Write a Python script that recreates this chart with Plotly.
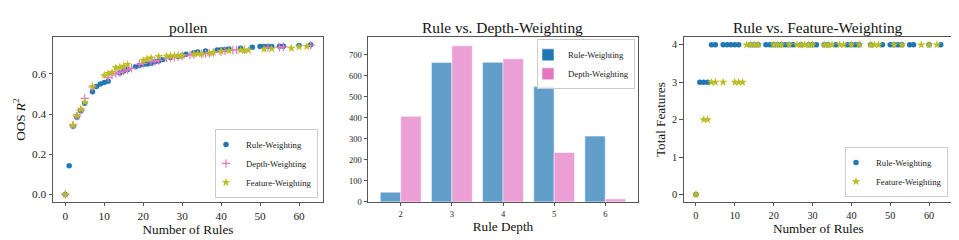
import plotly.graph_objects as go

# ---------------- data ----------------
# Panel 1: pollen, OOS R^2 vs number of rules
rule_x = [0, 1, 2, 3, 4, 5, 7, 8, 9, 10, 11, 14, 15, 16, 18, 19, 20, 21, 22, 23, 24, 25, 27, 29, 30, 31,
          33, 34, 36, 39, 40, 41, 42, 45, 48, 50, 51, 52, 53, 55, 56, 60, 63]
rule_r2 = [0.0, 0.143, 0.34, 0.384, 0.417, 0.454, 0.511, 0.538, 0.55, 0.557, 0.563, 0.605, 0.614, 0.622,
           0.636, 0.642, 0.648, 0.65, 0.652, 0.661, 0.665, 0.672, 0.682, 0.687, 0.69, 0.698,
           0.706, 0.709, 0.714, 0.719, 0.72, 0.722, 0.724, 0.728, 0.733, 0.736, 0.736, 0.737, 0.737,
           0.738, 0.738, 0.741, 0.745]
rule_feats = [0, 3, 3, 3] + [4] * (len(rule_x) - 4)

depth_x = [0, 2, 3, 4, 5, 7, 11, 12, 13, 14, 15, 16, 17, 19, 20, 22, 23, 24, 26, 27, 28, 29, 30, 32, 33,
           35, 36, 37, 38, 40, 41, 43, 44, 46, 52, 55, 56, 63]
depth_r2 = [0.0, 0.345, 0.39, 0.42, 0.478, 0.535, 0.582, 0.595, 0.603, 0.607, 0.614, 0.62, 0.628, 0.648,
            0.652, 0.66, 0.663, 0.667, 0.68, 0.683, 0.684, 0.686, 0.69, 0.694, 0.697, 0.699, 0.701,
            0.703, 0.706, 0.712, 0.715, 0.718, 0.72, 0.722, 0.732, 0.733, 0.735, 0.742]

feat_x = [0, 2, 3, 4, 5, 7, 10, 11, 12, 13, 14, 15, 16, 20, 21, 22, 24, 26, 27, 28, 29, 30, 33, 34, 35,
          37, 38, 40, 42, 45, 46, 47, 51, 53, 58, 60, 62]
feat_r2 = [0.0, 0.345, 0.393, 0.425, 0.46, 0.537, 0.593, 0.602, 0.607, 0.631, 0.634, 0.639, 0.648,
           0.667, 0.675, 0.68, 0.687, 0.689, 0.69, 0.691, 0.69, 0.692, 0.699, 0.7, 0.7, 0.704, 0.707,
           0.713, 0.716, 0.718, 0.718, 0.718, 0.723, 0.725, 0.728, 0.735, 0.737]
feat_feats = [0, 2, 2, 3, 3, 3, 3, 3, 3] + [4] * (len(feat_x) - 9)

# Panel 2: rule depth histogram
depth_cats = [2, 3, 4, 5, 6]
rule_depth_counts = [46, 663, 664, 548, 313]
depth_depth_counts = [407, 742, 680, 235, 14]

# ---------------- style ----------------
FONT = "Liberation Serif"
BLUE = "#1f77b4"
PINK = "#e377c2"
OLIVE = "#bcbd22"
AX = "#555555"

YDOM = [1 - 198 / 240, 1 - 30 / 240]
X1 = [45 / 959, 315 / 959]
X2 = [360 / 959, 630 / 959]
X3 = [675.7 / 959, 945 / 959]

fig = go.Figure()

# Panel 1
fig.add_trace(go.Scatter(x=rule_x, y=rule_r2, mode="markers", name="Rule-Weighting",
                         marker=dict(symbol="circle", size=5.5, color=BLUE),
                         xaxis="x", yaxis="y", legend="legend"))
fig.add_trace(go.Scatter(x=depth_x, y=depth_r2, mode="markers", name="Depth-Weighting",
                         marker=dict(symbol="cross-thin", size=6, color=PINK,
                                     line=dict(color=PINK, width=1.2)),
                         xaxis="x", yaxis="y", legend="legend"))
fig.add_trace(go.Scatter(x=feat_x, y=feat_r2, mode="markers", name="Feature-Weighting",
                         marker=dict(symbol="star", size=6.5, color=OLIVE),
                         xaxis="x", yaxis="y", legend="legend"))

# Panel 2
fig.add_trace(go.Bar(x=depth_cats, y=rule_depth_counts, name="Rule-Weighting",
                     marker=dict(color=BLUE, opacity=0.7, line=dict(width=0.8, color="rgba(255,255,255,0.7)")),
                     xaxis="x2", yaxis="y2", legend="legend2"))
fig.add_trace(go.Bar(x=depth_cats, y=depth_depth_counts, name="Depth-Weighting",
                     marker=dict(color=PINK, opacity=0.7, line=dict(width=0.8, color="rgba(255,255,255,0.7)")),
                     xaxis="x2", yaxis="y2", legend="legend2"))

# Panel 3
fig.add_trace(go.Scatter(x=rule_x, y=rule_feats, mode="markers", name="Rule-Weighting",
                         marker=dict(symbol="circle", size=5.5, color=BLUE),
                         xaxis="x3", yaxis="y3", legend="legend3"))
fig.add_trace(go.Scatter(x=feat_x, y=feat_feats, mode="markers", name="Feature-Weighting",
                         marker=dict(symbol="star", size=6.5, color=OLIVE),
                         xaxis="x3", yaxis="y3", legend="legend3"))


def axis(domain, rng, tickvals, tickfont, title=None, anchor=None, fmt=None, standoff=3):
    d = dict(domain=domain, range=rng, tickvals=tickvals, showgrid=False, zeroline=False,
             showline=True, mirror=True, linecolor=AX, linewidth=1,
             ticks="outside", ticklen=3.5, tickwidth=0.8, tickcolor=AX,
             tickfont=dict(family=FONT, size=tickfont, color="#222"),
             anchor=anchor)
    if fmt:
        d["tickformat"] = fmt
    if title:
        d["title"] = dict(text=title, font=dict(family=FONT, size=13.2, color="#111"), standoff=standoff)
    return d


leg_common = dict(font=dict(family=FONT, size=8.7, color="#222"), bgcolor="rgba(255,255,255,0.8)",
                  bordercolor="#cccccc", borderwidth=1, tracegroupgap=0, indentation=-10)

fig.update_layout(
    width=959, height=240, margin=dict(l=0, r=0, t=0, b=0),
    paper_bgcolor="white", plot_bgcolor="white",
    barmode="group", bargap=0.2, bargroupgap=0,
    xaxis=axis(X1, [-3.15, 66.15], [0, 10, 20, 30, 40, 50, 60], 11.3, "Number of Rules", "y"),
    yaxis=axis(YDOM, [-0.037, 0.782], [0.0, 0.2, 0.4, 0.6], 11.3, "OOS <i>R</i><sup>2</sup>", "x", ".1f"),
    xaxis2=axis(X2, [1.36, 6.64], depth_cats, 8.5, "Rule Depth", "y2"),
    yaxis2=axis(YDOM, [0, 782], [0, 100, 200, 300, 400, 500, 600, 700], 8.5, None, "x2"),
    xaxis3=axis(X3, [-3.15, 66.15], [0, 10, 20, 30, 40, 50, 60], 10.3, "Number of Rules", "y3"),
    yaxis3=axis(YDOM, [-0.2, 4.2], [0, 1, 2, 3, 4], 10.3, "Total Features", "x3"),
    legend=dict(x=310 / 959, xanchor="right", y=1 - 194 / 240, yanchor="bottom", **leg_common),
    legend2=dict(x=627 / 959, xanchor="right", y=1 - 32 / 240, yanchor="top", **leg_common),
    legend3=dict(x=940 / 959, xanchor="right", y=1 - 193 / 240, yanchor="bottom", **leg_common),
    showlegend=True,
)

titles = [("pollen", (X1[0] + X1[1]) / 2), ("Rule vs. Depth-Weighting", (X2[0] + X2[1]) / 2),
          ("Rule vs. Feature-Weighting", (X3[0] + X3[1]) / 2)]
for text, xc in titles:
    fig.add_annotation(text=text, x=xc, y=1 - 19.5 / 240, xref="paper", yref="paper",
                       xanchor="center", yanchor="middle", showarrow=False,
                       font=dict(family=FONT, size=15.4, color="#111"))

fig.write_html("out.html")
